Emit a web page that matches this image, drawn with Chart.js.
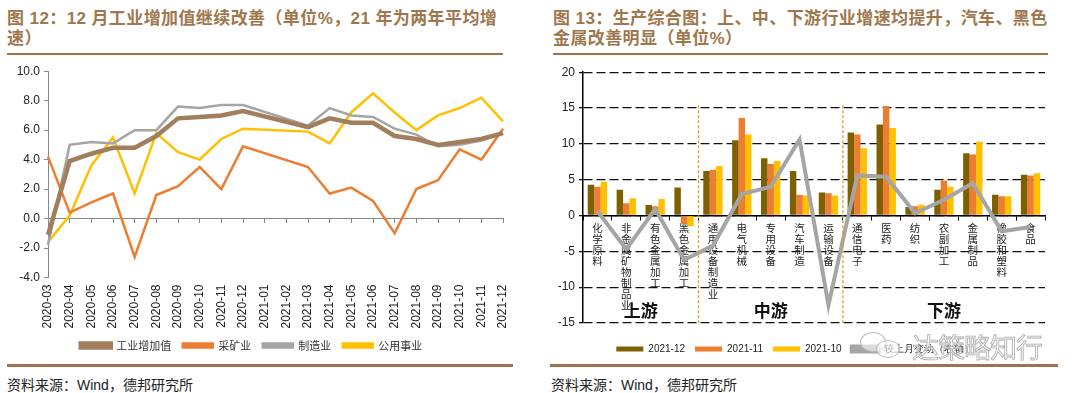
<!DOCTYPE html>
<html>
<head>
<meta charset="utf-8">
<script src="https://cdn.jsdelivr.net/npm/chart.js@4.4.0/dist/chart.umd.min.js"></script>
<style>
  body { margin: 0; width: 1080px; height: 393px; background: #fff; position: relative; overflow: hidden; font-family: "Liberation Sans", Arial, sans-serif; }
  .title { position: absolute; top: 9px; color: #A0774D; font-weight: bold; font-size: 17px; line-height: 20px; letter-spacing: 0.4px; font-family: "Liberation Sans", "Noto Sans CJK SC", sans-serif; white-space: nowrap; }
  .rule { position: absolute; height: 2px; background: #A0714A; }
  .rule.bottom { height: 3px; }
  .src { position: absolute; top: 374px; font-size: 14px; color: #222; font-family: "Liberation Sans", "Noto Sans CJK SC", sans-serif; }
  .box { position: absolute; }
  .wm { position: absolute; left: 912px; top: 327px; font-size: 27px; color: rgba(255,255,255,0.6); -webkit-text-stroke: 0.8px #aaa; font-family: "Noto Sans CJK SC", sans-serif; letter-spacing: -1px; }
  .bubble { position: absolute; border: 1.2px solid #bbb; border-radius: 50%; background: rgba(255,255,255,0.6); }
</style>
</head>
<body>
<div class="title" style="left:7px">图 12：12 月工业增加值继续改善（单位%，21 年为两年平均增<br>速）</div>
<div class="rule" style="left:7px; top:53px; width:496px"></div>
<div class="title" style="left:553px">图 13：生产综合图：上、中、下游行业增速均提升，汽车、黑色<br>金属改善明显（单位%）</div>
<div class="rule" style="left:553px; top:53px; width:495px"></div>

<div class="box" style="left:0; top:60px; width:520px; height:301px"><canvas id="c1" width="520" height="301"></canvas></div>
<div class="box" style="left:545px; top:61px; width:535px; height:303px"><canvas id="c2" width="535" height="303"></canvas></div>

<div class="rule bottom" style="left:7px; top:364px; width:506px"></div>
<div class="rule bottom" style="left:550px; top:364px; width:508px"></div>
<div class="src" style="left:7px">资料来源：Wind，德邦研究所</div>
<div class="src" style="left:551px">资料来源：Wind，德邦研究所</div>

<div class="bubble" style="left:860px; top:332px; width:24px; height:18px"></div>
<div class="bubble" style="left:876px; top:340px; width:22px; height:16px"></div>
<div class="wm">达策略知行</div>

<script>
// ---- 图12 data ----
const months = ['2020-03','2020-04','2020-05','2020-06','2020-07','2020-08','2020-09','2020-10','2020-11','2020-12',
  '2021-01','2021-02','2021-03','2021-04','2021-05','2021-06','2021-07','2021-08','2021-09','2021-10','2021-11','2021-12'];
const industry = [-1.1,3.9,4.4,4.8,4.8,5.6,6.8,6.9,7.0,7.3,null,null,6.2,6.8,6.5,6.5,5.6,5.4,5.0,5.2,5.4,5.8];
const mining   = [4.2,0.4,1.1,1.7,-2.6,1.6,2.2,3.5,2.0,4.9,null,null,3.5,1.7,2.1,1.2,-1.0,2.0,2.6,4.7,4.0,6.1];
const manufacturing = [-1.8,5.0,5.2,5.1,6.0,6.0,7.6,7.5,7.7,7.7,null,null,6.3,7.5,7.0,6.9,6.1,5.7,4.9,5.0,5.3,5.8];
const utilities = [-1.6,0.2,3.6,5.5,1.7,5.8,4.5,4.0,5.4,6.1,null,null,5.9,5.1,7.2,8.5,7.2,6.0,7.0,7.5,8.2,6.6];

// ---- 图13 data ----
const sectors = ['化学原料','非金属矿物制品业','有色金属加工','黑色金属加工','通用设备制造业','电气机械','专用设备','汽车制造',
  '运输设备','通信电子','医药','纺织','农副加工','金属制品','橡胶和塑料','食品'];
const dec21 = [4.3,3.6,1.45,3.9,6.2,10.5,8.0,6.2,3.2,11.6,12.7,1.2,3.6,8.7,2.9,5.7];
const nov21 = [4.0,1.7,1.3,-1.2,6.4,13.6,7.2,2.9,3.1,11.3,15.3,1.3,4.9,8.5,2.7,5.6];
const oct21 = [4.7,2.4,2.3,-1.5,6.9,11.3,7.6,2.8,2.8,9.4,12.2,1.5,4.0,10.3,2.7,5.9];
const change = [0.6,-4.7,0.9,-6.2,-4.2,3.0,4.0,10.6,-12.5,5.6,5.4,0.3,2.2,4.5,-2.2,-1.6];
const groups = [{ text: '上游', at: 1.5 }, { text: '中游', at: 6 }, { text: '下游', at: 12 }];
const dividers = [3.5, 8.5];

const cjk = '"Noto Sans CJK SC", sans-serif';
const latin = '"Liberation Sans", Arial, sans-serif';

new Chart(document.getElementById('c1'), {
  type: 'line',
  data: {
    labels: months,
    datasets: [
      { label: '工业增加值', data: industry, borderColor: '#A17F5C', backgroundColor: '#A17F5C', borderWidth: 4.5 },
      { label: '采矿业', data: mining, borderColor: '#ED7D31', backgroundColor: '#ED7D31', borderWidth: 2.5 },
      { label: '制造业', data: manufacturing, borderColor: '#A5A5A5', backgroundColor: '#A5A5A5', borderWidth: 2.5 },
      { label: '公用事业', data: utilities, borderColor: '#FFC000', backgroundColor: '#FFC000', borderWidth: 2.5 }
    ]
  },
  options: {
    responsive: false,
    animation: false,
    spanGaps: true,
    elements: { point: { radius: 0 }, line: { tension: 0 } },
    layout: { padding: { top: 5, right: 17, bottom: 0 } },
    plugins: {
      tooltip: { enabled: false },
      legend: {
        position: 'bottom',
        labels: { boxWidth: 30, boxHeight: 4, padding: 11.5, color: '#333', font: { size: 11, family: cjk, lineHeight: 1 } }
      }
    },
    scales: {
      x: {
        position: { y: 0 },
        grid: { drawOnChartArea: false, tickLength: 4, color: '#888' },
        border: { color: '#888' },
        ticks: { display: false }
      },
      x2: {
        type: 'category',
        position: 'bottom',
        grid: { display: false },
        border: { display: false },
        ticks: { minRotation: 90, maxRotation: 90, autoSkip: false, padding: -1, color: '#222', font: { size: 12, family: latin } },
        afterFit: s => { s.height = 51; }
      },
      y: {
        min: -4, max: 10,
        ticks: { stepSize: 2, callback: v => v.toFixed(1), color: '#222', font: { size: 12, family: latin }, padding: 4 },
        grid: { drawOnChartArea: false, tickLength: 4, color: '#888' },
        border: { color: '#888' },
        afterFit: s => { s.width = 48; }
      }
    }
  }
});

const groupPlugin = {
  id: 'groups',
  afterDatasetsDraw(chart) {
    const { ctx, scales: { x, y }, chartArea } = chart;
    ctx.save();
    ctx.strokeStyle = '#D4A22A';
    ctx.lineWidth = 1.3;
    ctx.setLineDash([3, 2]);
    dividers.forEach(d => {
      const px = (x.getPixelForValue(Math.floor(d)) + x.getPixelForValue(Math.ceil(d))) / 2;
      ctx.beginPath();
      ctx.moveTo(px, y.getPixelForValue(15.4));
      ctx.lineTo(px, chartArea.bottom);
      ctx.stroke();
    });
    ctx.setLineDash([]);
    ctx.fillStyle = '#111';
    ctx.font = 'bold 17px ' + cjk;
    ctx.textAlign = 'center';
    ctx.textBaseline = 'middle';
    groups.forEach(g => {
      const a = x.getPixelForValue(Math.floor(g.at));
      const b = x.getPixelForValue(Math.ceil(g.at));
      ctx.fillText(g.text, (a + b) / 2, y.getPixelForValue(-13.3));
    });
    ctx.restore();
  }
};

new Chart(document.getElementById('c2'), {
  data: {
    labels: sectors.map(s => s.split('')),
    datasets: [
      { type: 'bar', label: '2021-12', data: dec21, backgroundColor: '#7F6000', order: 2 },
      { type: 'bar', label: '2021-11', data: nov21, backgroundColor: '#ED7D31', order: 2 },
      { type: 'bar', label: '2021-10', data: oct21, backgroundColor: '#FFC000', order: 2 },
      { type: 'line', label: '较上月变动（右轴）', data: change, borderColor: '#A5A5A5', backgroundColor: '#A5A5A5', borderWidth: 4, pointRadius: 0, tension: 0, order: 1 }
    ]
  },
  options: {
    responsive: false,
    animation: false,
    datasets: { bar: { categoryPercentage: 0.67, barPercentage: 1.0 } },
    layout: { padding: { top: 10, right: 35, bottom: 0 } },
    plugins: {
      tooltip: { enabled: false },
      legend: {
        position: 'bottom',
        labels: { boxWidth: 27, boxHeight: 5, padding: 10, color: '#222', font: { size: 10, family: latin },
          sort: (a, b) => a.datasetIndex - b.datasetIndex }
      }
    },
    scales: {
      x: {
        position: { y: 0 },
        offset: true,
        grid: { drawOnChartArea: false, tickLength: 4, color: '#000', offset: true },
        border: { color: '#000', width: 1.5 },
        ticks: { autoSkip: false, maxRotation: 0, padding: 3, color: '#222', font: { size: 10.5, family: cjk, lineHeight: 1.05 } }
      },
      // empty spacer between the plot and the legend
      x2: {
        type: 'category',
        position: 'bottom',
        grid: { display: false },
        border: { display: false },
        ticks: { display: false },
        afterFit: s => { s.height = 11; }
      },
      y: {
        min: -15, max: 20,
        ticks: { stepSize: 5, color: '#222', font: { size: 12, family: latin }, padding: 4 },
        grid: { color: '#111', lineWidth: 1.3, tickLength: 4 },
        border: { color: '#000', width: 1.5, dash: [9, 4] },
        afterFit: s => { s.width = 38; }
      }
    }
  },
  plugins: [groupPlugin]
});
</script>
</body>
</html>
